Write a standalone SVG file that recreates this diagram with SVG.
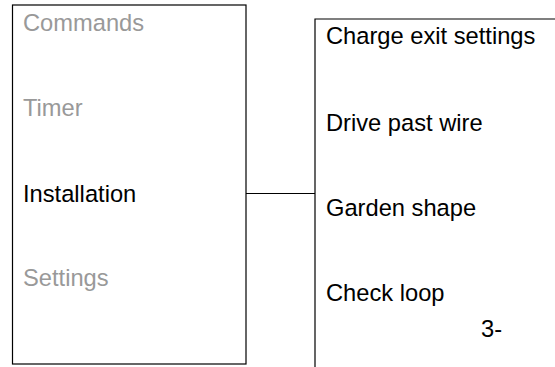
<svg xmlns="http://www.w3.org/2000/svg" width="555" height="367" viewBox="0 0 555 367">
<style>
.box{fill:#fff;stroke:#000;stroke-width:1.2}
.t{font-family:"Liberation Sans",Arial,sans-serif;font-size:23.7px}
.g{fill:#999}
.b{fill:#000}
.c{stroke:#000;stroke-width:1.2;fill:none}
</style>
<rect width="555" height="367" fill="#fff"/>
<g id="menu">
<rect class="box" x="12.5" y="5" width="233.5" height="359"/>
<text class="t g" x="23" y="31">Commands</text>
<text class="t g" x="23" y="116">Timer</text>
<text class="t b" x="23" y="202">Installation</text>
<text class="t g" x="23" y="286">Settings</text>
</g>
<g id="submenu">
<path class="c" d="M315,368 V19 H556"/>
<text class="t b" x="326" y="44">Charge exit settings</text>
<text class="t b" x="326" y="131">Drive past wire</text>
<text class="t b" x="326" y="216">Garden shape</text>
<text class="t b" x="326" y="301">Check loop</text>
<text class="t b" x="481" y="337">3-</text>
</g>
<g id="connectors">
<line class="c" x1="246" y1="193.5" x2="315" y2="193.5"/>
</g>
</svg>
